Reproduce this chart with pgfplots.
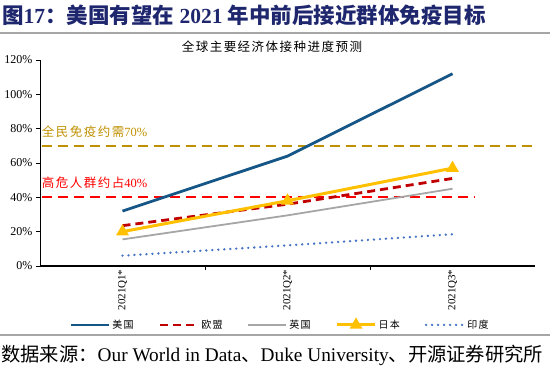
\documentclass[border=0pt]{standalone}
\usepackage{pgfplots}
\pgfplotsset{compat=1.18}
\usepackage{fontspec}
\setmainfont{Liberation Serif}
\newfontfamily\cjk{Noto Sans CJK SC}
\newfontfamily\cjksp{Noto Sans CJK SC}[LetterSpace=12]
\definecolor{usa}{RGB}{22,86,134}
\definecolor{eu}{RGB}{192,0,0}
\definecolor{uk}{RGB}{166,166,166}
\definecolor{jp}{RGB}{255,192,0}
\definecolor{ind}{RGB}{68,114,196}
\definecolor{goldline}{RGB}{191,144,0}
\definecolor{navy}{RGB}{30,38,110}
\begin{document}
\begin{tikzpicture}
\useasboundingbox (0,0) rectangle (550pt,369pt);
\node[anchor=west, text=navy, inner sep=0pt] at (2pt,354pt) {\fontsize{21.5}{25}\selectfont{\cjk\bfseries 图}\textbf{17}{\cjk\bfseries ：美国有望在} \textbf{2021} {\cjk\bfseries 年中前后接近群体免疫目标}};
\draw[gray!70, line width=1.2pt] (0pt,336pt) -- (550pt,336pt);
\node[inner sep=0pt] at (272pt,322pt) {\fontsize{12.5}{15}\selectfont\cjksp 全球主要经济体接种进度预测};
\begin{axis}[
  at={(40pt,103pt)}, anchor=south west, scale only axis,
  width=495pt, height=206pt,
  xmin=-0.5, xmax=2.5, ymin=0, ymax=120,
  axis x line=bottom, axis y line=left, axis line style={-},
  x axis line style={line width=1.6pt},
  y axis line style={line width=0.8pt},
  tick align=outside, major tick length=4pt,
  tick style={black, line width=0.8pt},
  xtick={0.5,1.5}, xticklabels={,},
  extra x ticks={0,1,2},
  extra x tick labels={2021Q1*,2021Q2*,2021Q3*},
  extra x tick style={major tick length=0pt},
  xticklabel style={rotate=90, anchor=east, font=\fontsize{11}{13}\selectfont},
  ytick={0,20,40,60,80,100,120},
  yticklabels={0\%,20\%,40\%,60\%,80\%,100\%,120\%},
  yticklabel style={font=\fontsize{12}{14}\selectfont},
  clip=false,
  legend columns=5,
  legend style={at={(0.485,-0.286)}, anchor=center, draw=none, fill=none,
    font=\fontsize{10}{12}\selectfont\cjksp,
    /tikz/every even column/.append style={column sep=23pt}},
  legend cell align=left,
  legend image code/.code={\draw[mark repeat=2,mark phase=2,#1] plot coordinates {(0pt,0pt) (19pt,0pt) (38pt,0pt)};},
]
\addplot[goldline, line width=1.8pt, dash pattern=on 10pt off 6pt, forget plot] coordinates {(-0.49,70) (2.5,70)};
\addplot[red, line width=1.8pt, dash pattern=on 10pt off 6pt, forget plot] coordinates {(-0.49,40) (2.13,40)};
\addplot[usa, line width=2.8pt] coordinates {(0,32) (1,64) (2,112)};
\addlegendentry{美国}
\addplot[eu, line width=2.8pt, dash pattern=on 8pt off 5pt] coordinates {(0,23.5) (1,36) (2,51)};
\addlegendentry{欧盟}
\addplot[uk, line width=1.8pt] coordinates {(0,15.5) (1,29.5) (2,45)};
\addlegendentry{英国}
\addplot[jp, line width=3pt, mark=triangle*, mark size=4.5pt, mark options={solid}] coordinates {(0,20) (1,38) (2,57)};
\addlegendentry{日本}
\addplot[ind, line width=2.6pt, line cap=round, dash pattern=on 0pt off 6pt] coordinates {(0,6) (1,12) (2,18.5)};
\addlegendentry{印度}
\node[anchor=west, text=goldline, inner sep=0pt] at (axis cs:-0.49,78.5) {\fontsize{12.5}{14}\selectfont{\cjksp 全民免疫约需}70\%};
\node[anchor=west, text=red, inner sep=0pt] at (axis cs:-0.49,48.3) {\fontsize{12.5}{14}\selectfont{\cjksp 高危人群约占}40\%};
\end{axis}
\draw[gray!70, line width=1.2pt] (0pt,34pt) -- (550pt,34pt);
\node[anchor=west, inner sep=0pt] at (1pt,14pt) {\fontsize{19.3}{22}\selectfont{\cjk 数据来源：}Our World in Data{\cjk 、}Duke University{\cjk 、开源证券研究所}};
\end{tikzpicture}
\end{document}
